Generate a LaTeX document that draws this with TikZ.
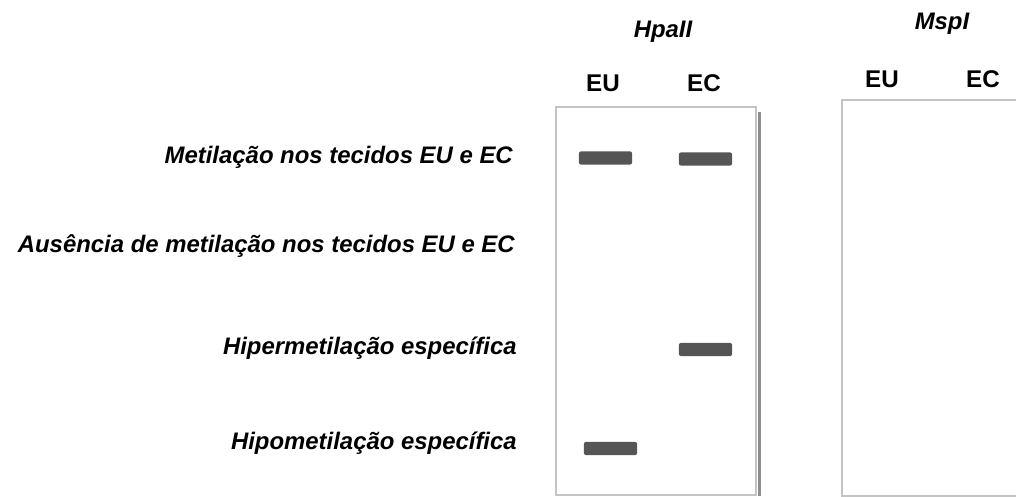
\documentclass[tikz,border=0pt]{standalone}
\usepackage{fontspec}
\setmainfont{Liberation Sans}
\usepackage{tikz}
\usetikzlibrary{positioning,calc}
\definecolor{bandgray}{HTML}{555555}
\definecolor{gelline}{HTML}{C4C4C4}
\definecolor{gelshade}{HTML}{8E8E8E}

\begin{document}
\begin{tikzpicture}[x=0.025cm, y=-0.025cm,
    label/.style={anchor=east, font=\fontsize{17}{19}\selectfont\bfseries\itshape, inner sep=0pt},
    lane/.style={font=\fontsize{17.2}{19}\selectfont\bfseries, inner sep=0pt},
    enzyme/.style={font=\fontsize{17}{19}\selectfont\bfseries\itshape, inner sep=0pt},
    gel/.style={rectangle, draw=gelline, line width=1.6pt, fill=white, inner sep=0pt},
    band/.style={rectangle, fill=bandgray, rounded corners=1.5pt, minimum width=1.33cm, minimum height=0.33cm, inner sep=0pt}
]
    \useasboundingbox (0,0) rectangle (1016,497);
    \clip (0,0) rectangle (1016,497);

    % enzimas e canaletas
    \node[enzyme] (hpa) at (663,32) {HpaII};
    \node[enzyme] (msp) at (942,24) {MspI};
    \node[lane] (hpaEU) at (603,83) {EU};
    \node[lane] (hpaEC) at (704,83) {EC};
    \node[lane] (mspEU) at (882,79) {EU};
    \node[lane] (mspEC) at (983,79) {EC};

    % géis
    \node[gel, minimum width=5cm, minimum height=9.7cm] (gelH) at (656,301) {};
    \draw[gelshade, line width=2.2pt] ($(gelH.north east)+(2,6)$) -- ($(gelH.south east)+(2,0)$);
    \node[gel, minimum width=5cm, minimum height=9.9cm] (gelM) at (942,298) {};

    % padrões de metilação
    \node[label] (l1) at (513,157) {Metilação nos tecidos EU e EC};
    \node[label] (l2) at (515,246) {Ausência de metilação nos tecidos EU e EC};
    \node[label] (l3) at (517,348) {Hipermetilação específica};
    \node[label] (l4) at (517,443) {Hipometilação específica};

    % bandas
    \node[band] (b1u) at (605.5,158) {};
    \node[band] (b1c) at (705.5,159) {};
    \node[band] (b3c) at (705.5,349.5) {};
    \node[band] (b4u) at (610.5,448.5) {};
\end{tikzpicture}
\end{document}
